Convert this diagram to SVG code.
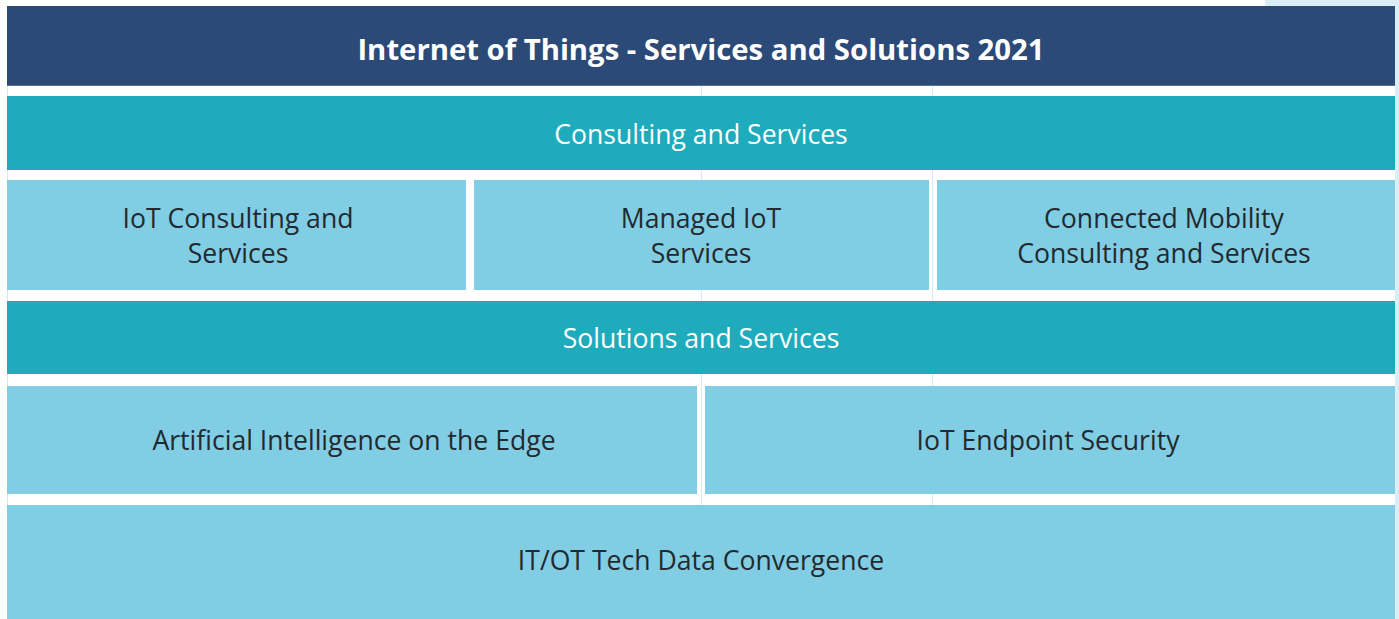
<svg xmlns="http://www.w3.org/2000/svg" width="1399" height="619" viewBox="0 0 1399 619">
<style>
.title{font-family:"Open Sans","Noto Sans",sans-serif;font-weight:bold;font-size:29.3px;fill:#ffffff;text-anchor:middle}
.hdr{font-family:"Open Sans","Noto Sans",sans-serif;font-size:26.6px;fill:#ffffff;text-anchor:middle}
.lbl{font-family:"Open Sans","Noto Sans",sans-serif;font-size:26.6px;fill:#222a30;text-anchor:middle}
.dark{fill:#2b4a78}
.teal{fill:#1eabbb}
.light{fill:#81cde3}
.grid{stroke:#d5eaf1;stroke-width:1}
</style>
<rect x="0" y="0" width="1399" height="619" fill="#ffffff"/>
<rect x="1265" y="0" width="134" height="6" fill="#d9eef5"/>
<rect x="1395" y="0" width="4" height="619" fill="#d9eef5"/>
<g id="connectors" class="grid">
<line x1="701.5" y1="86" x2="701.5" y2="505"/>
<line x1="932.5" y1="86" x2="932.5" y2="505"/>
<line x1="7.5" y1="86" x2="7.5" y2="505"/>
</g>
<g id="title"><rect class="dark" x="7" y="6" width="1388" height="79"/><rect x="7" y="85" width="1388" height="1" fill="#5a7090"/><text class="title" x="701" y="60">Internet of Things - Services and Solutions 2021</text></g>
<g id="consulting"><rect class="teal" x="7" y="96" width="1388" height="74"/><text class="hdr" x="701" y="144">Consulting and Services</text></g>
<g id="iot-consulting"><rect class="light" x="7" y="180" width="459" height="110"/><text class="lbl" x="238" y="228">IoT Consulting and</text><text class="lbl" x="238" y="263">Services</text></g>
<g id="managed-iot"><rect class="light" x="474" y="180" width="455" height="110"/><text class="lbl" x="701" y="228">Managed IoT</text><text class="lbl" x="701" y="263">Services</text></g>
<g id="connected-mobility"><rect class="light" x="937" y="180" width="458" height="110"/><text class="lbl" x="1164" y="228">Connected Mobility</text><text class="lbl" x="1164" y="263">Consulting and Services</text></g>
<g id="solutions"><rect class="teal" x="7" y="301" width="1388" height="73"/><text class="hdr" x="701" y="348">Solutions and Services</text></g>
<g id="ai-edge"><rect class="light" x="7" y="386" width="690" height="108"/><text class="lbl" x="354" y="450">Artificial Intelligence on the Edge</text></g>
<g id="endpoint-security"><rect class="light" x="705" y="386" width="690" height="108"/><text class="lbl" x="1048" y="450">IoT Endpoint Security</text></g>
<g id="itot"><rect class="light" x="7" y="505" width="1388" height="114"/><text class="lbl" x="701" y="570">IT/OT Tech Data Convergence</text></g>
</svg>
